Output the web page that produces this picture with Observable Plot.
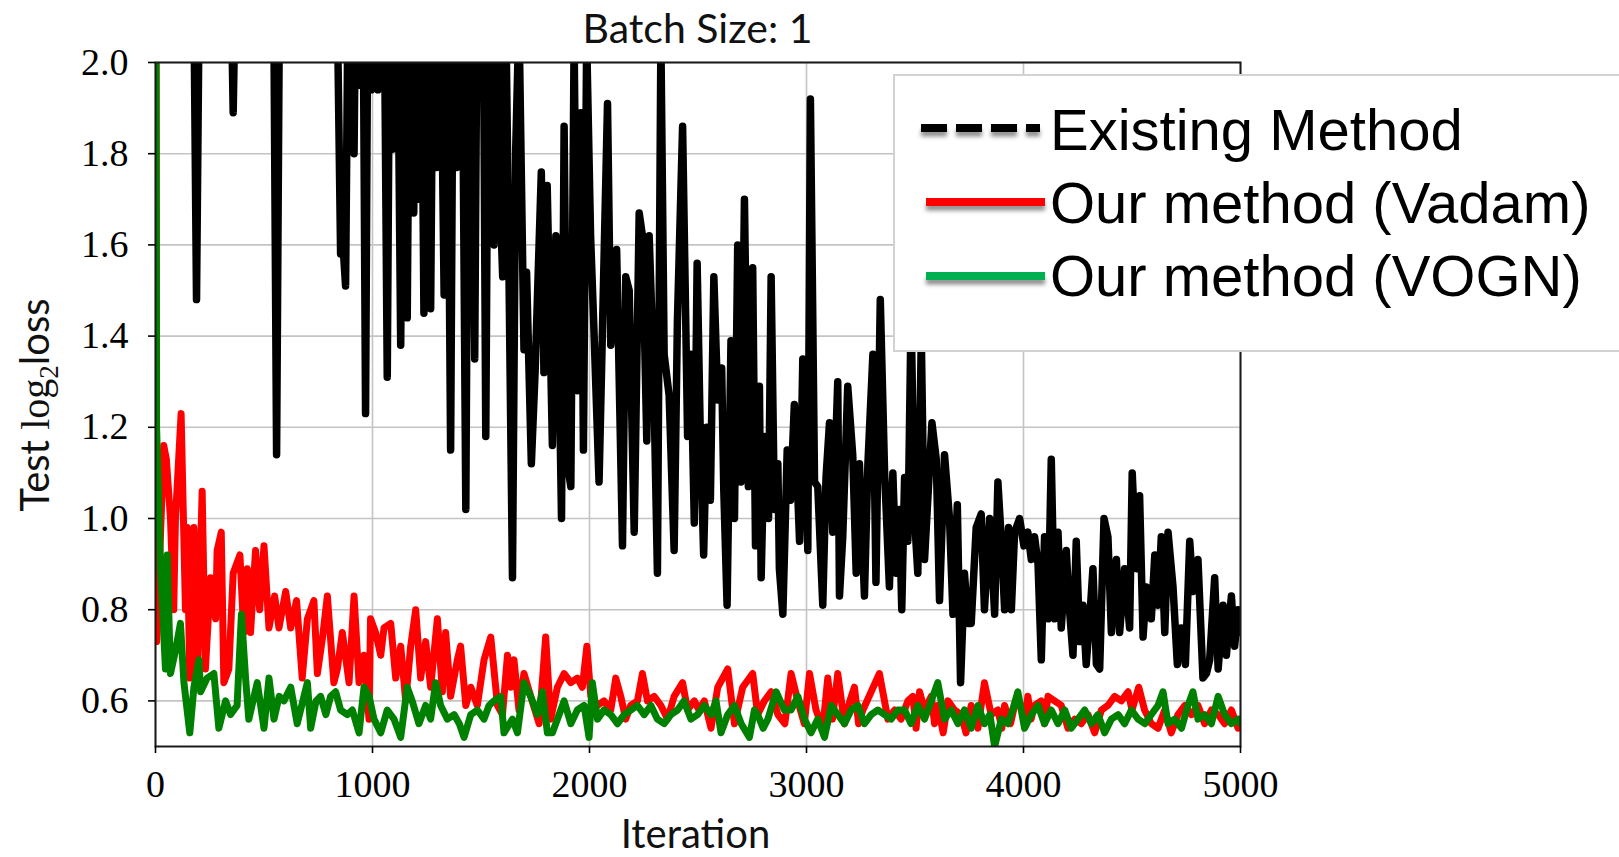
<!DOCTYPE html>
<html>
<head>
<meta charset="utf-8">
<script src="https://cdn.jsdelivr.net/npm/d3@7"></script>
<script src="https://cdn.jsdelivr.net/npm/@observablehq/plot@0.6"></script>
<style>
  html, body { margin: 0; padding: 0; background: #fff; overflow: hidden; }
  #chart { position: relative; width: 1619px; height: 857px; }
</style>
</head>
<body>
<div id="chart"></div>
<script>
// ---- data ----
const xTicks = [0, 1000, 2000, 3000, 4000, 5000];
const yTicks = [0.6, 0.8, 1.0, 1.2, 1.4, 1.6, 1.8, 2.0];
const seriesNames = ["Existing Method", "Our method (Vadam)", "Our method (VOGN)"];

// [iteration, test log2 loss]
const existingMethod = [
[0,2.6],[170,2.5],[189,1.48],[208,2.5],[340,2.4],[358,1.89],[376,2.4],[540,2.5],[558,1.14],[576,2.5],
[830,2.4],[853,1.58],[864,1.6],[876,1.51],[890,2.3],[905,2.2],[915,1.80],[925,2.3],[940,1.95],[955,2.3],
[968,1.23],[980,2.3],[995,1.94],[1010,2.2],[1025,1.94],[1040,2.3],[1055,2.1],[1068,1.31],[1080,2.2],[1092,1.81],
[1105,2.3],[1118,2.0],[1130,1.38],[1145,2.3],[1160,1.44],[1172,2.2],[1190,1.67],[1203,2.2],[1215,1.70],[1226,2.1],
[1237,1.45],[1250,2.2],[1268,1.46],[1280,2.2],[1295,1.77],[1310,2.3],[1330,1.49],[1345,2.1],[1360,1.15],[1374,2.3],
[1388,1.77],[1400,2.2],[1415,2.0],[1430,1.02],[1445,2.3],[1458,2.0],[1471,1.35],[1484,2.3],[1497,2.0],[1510,2.2],
[1522,1.18],[1535,2.2],[1547,1.85],[1560,1.60],[1575,2.2],[1588,1.70],[1600,1.53],[1612,2.2],[1625,1.70],[1645,0.87],
[1660,1.81],[1675,2.1],[1698,1.37],[1710,1.54],[1732,1.12],[1750,1.33],[1778,1.76],[1790,1.32],[1805,1.73],[1829,1.16],
[1845,1.62],[1860,1.33],[1871,1.00],[1883,1.86],[1898,1.12],[1914,1.07],[1929,2.05],[1945,1.28],[1960,1.89],[1972,1.15],
[1987,2.05],[2005,1.62],[2020,1.42],[2044,1.08],[2060,1.42],[2083,1.91],[2098,1.38],[2125,1.59],[2152,0.94],[2167,1.53],
[2183,1.50],[2206,0.97],[2229,1.67],[2244,1.62],[2264,1.17],[2275,1.62],[2295,1.33],[2313,0.88],[2329,2.05],[2344,1.36],
[2367,1.27],[2390,0.93],[2405,1.43],[2429,1.86],[2452,1.18],[2467,1.36],[2483,0.99],[2496,1.56],[2510,1.20],[2526,0.92],
[2540,1.20],[2557,1.04],[2573,1.53],[2591,1.26],[2609,1.33],[2619,1.06],[2634,0.81],[2652,1.39],[2668,1.00],[2683,1.60],
[2698,1.08],[2714,1.70],[2732,1.07],[2752,1.55],[2765,0.94],[2783,1.29],[2791,0.87],[2806,1.18],[2825,1.00],[2837,1.53],
[2852,1.02],[2868,1.12],[2875,0.89],[2891,0.79],[2911,1.15],[2926,1.04],[2944,1.25],[2968,0.95],[2983,1.35],[3006,0.93],
[3018,1.92],[3037,1.08],[3052,1.07],[3075,0.81],[3090,1.09],[3106,1.21],[3121,0.97],[3144,1.30],[3152,0.83],[3167,0.96],
[3190,1.29],[3213,1.14],[3229,0.88],[3244,1.12],[3267,0.83],[3283,1.12],[3306,1.36],[3320,0.86],[3340,1.48],[3360,1.10],
[3382,0.85],[3398,1.10],[3413,0.88],[3428,1.02],[3439,0.80],[3452,1.09],[3467,0.95],[3482,1.45],[3498,1.00],[3513,0.88],
[3529,1.40],[3544,0.91],[3578,1.21],[3598,1.13],[3613,0.82],[3636,1.14],[3659,1.00],[3675,0.79],[3695,1.03],[3710,0.64],
[3728,0.88],[3744,0.77],[3759,0.77],[3782,0.98],[3805,1.01],[3820,0.80],[3844,1.00],[3867,0.79],[3882,1.08],[3898,0.95],
[3913,0.80],[3931,0.98],[3944,0.80],[3959,0.97],[3982,1.00],[4002,0.94],[4020,0.97],[4036,0.91],[4051,0.96],[4067,0.90],
[4082,0.69],[4097,0.96],[4113,0.78],[4128,1.13],[4143,0.78],[4159,0.97],[4174,0.76],[4197,0.93],[4212,0.80],[4228,0.70],
[4243,0.95],[4259,0.73],[4274,0.81],[4289,0.68],[4305,0.78],[4320,0.89],[4336,0.68],[4351,0.67],[4371,1.00],[4389,0.96],
[4405,0.75],[4428,0.91],[4443,0.75],[4466,0.89],[4489,0.76],[4501,1.10],[4520,0.89],[4535,1.05],[4551,0.74],[4566,0.85],
[4589,0.78],[4605,0.92],[4620,0.81],[4635,0.96],[4651,0.75],[4666,0.97],[4689,0.85],[4709,0.68],[4727,0.76],[4746,0.68],
[4766,0.95],[4781,0.84],[4804,0.91],[4827,0.65],[4843,0.66],[4858,0.69],[4881,0.87],[4897,0.67],[4920,0.81],[4935,0.70],
[4958,0.83],[4973,0.72],[4989,0.80],[5000,0.75]
];

const vadam = [
[0,3.0],[5,0.73],[38,1.16],[50,1.13],[69,1.00],[84,0.80],[92,1.00],[118,1.23],[138,0.80],[146,0.98],
[158,0.65],[177,0.98],[192,0.65],[215,1.06],[230,0.67],[254,0.87],[277,0.78],[284,0.93],[303,0.97],[315,0.64],
[338,0.67],[358,0.88],[389,0.92],[407,0.75],[423,0.89],[438,0.75],[461,0.93],[480,0.80],[500,0.94],[523,0.76],
[549,0.83],[569,0.76],[600,0.84],[623,0.76],[650,0.82],[676,0.65],[700,0.78],[730,0.82],[746,0.66],[770,0.74],
[792,0.83],[822,0.64],[838,0.67],[861,0.75],[892,0.64],[915,0.83],[938,0.64],[961,0.70],[984,0.56],[991,0.78],
[1014,0.75],[1038,0.70],[1053,0.76],[1084,0.77],[1107,0.65],[1130,0.72],[1153,0.60],[1176,0.72],[1199,0.80],[1222,0.65],
[1245,0.73],[1268,0.63],[1299,0.78],[1322,0.62],[1337,0.75],[1360,0.61],[1391,0.69],[1406,0.72],[1430,0.59],[1453,0.63],
[1483,0.59],[1514,0.69],[1545,0.74],[1576,0.59],[1599,0.57],[1622,0.70],[1637,0.63],[1652,0.69],[1675,0.58],[1698,0.66],
[1729,0.61],[1768,0.55],[1798,0.74],[1821,0.56],[1852,0.63],[1883,0.66],[1914,0.64],[1944,0.65],[1967,0.63],[1988,0.72],
[2006,0.61],[2037,0.59],[2067,0.60],[2098,0.58],[2121,0.65],[2144,0.61],[2167,0.56],[2190,0.59],[2221,0.60],[2244,0.66],
[2267,0.60],[2298,0.61],[2329,0.59],[2360,0.56],[2390,0.61],[2429,0.64],[2452,0.58],[2483,0.60],[2505,0.58],[2529,0.60],
[2560,0.54],[2591,0.63],[2637,0.67],[2668,0.55],[2706,0.63],[2752,0.66],[2775,0.57],[2806,0.60],[2837,0.62],[2868,0.57],
[2900,0.55],[2929,0.66],[2960,0.60],[2990,0.55],[3014,0.66],[3044,0.58],[3075,0.54],[3098,0.65],[3120,0.56],[3144,0.66],
[3175,0.55],[3200,0.60],[3221,0.63],[3240,0.55],[3260,0.58],[3298,0.62],[3336,0.66],[3375,0.56],[3406,0.58],[3436,0.56],
[3467,0.60],[3490,0.61],[3505,0.54],[3521,0.62],[3544,0.58],[3575,0.61],[3590,0.55],[3605,0.59],[3630,0.53],[3652,0.60],
[3682,0.58],[3713,0.57],[3735,0.53],[3759,0.59],[3790,0.54],[3820,0.64],[3851,0.57],[3882,0.58],[3900,0.54],[3913,0.59],
[3940,0.55],[3959,0.59],[3990,0.59],[4005,0.55],[4020,0.61],[4035,0.56],[4051,0.59],[4082,0.60],[4097,0.55],[4113,0.61],
[4143,0.60],[4174,0.59],[4205,0.54],[4236,0.56],[4266,0.55],[4297,0.57],[4328,0.53],[4359,0.58],[4389,0.59],[4420,0.61],
[4451,0.60],[4482,0.62],[4500,0.58],[4531,0.63],[4558,0.58],[4589,0.55],[4620,0.54],[4651,0.58],[4681,0.53],[4712,0.57],
[4743,0.59],[4774,0.57],[4804,0.59],[4835,0.55],[4866,0.58],[4897,0.57],[4927,0.55],[4958,0.58],[4989,0.54],[5000,0.56]
];

const vogn = [
[0,3.0],[5,1.20],[23,0.89],[46,0.67],[54,0.92],[69,0.66],[92,0.71],[115,0.77],[131,0.64],[158,0.53],
[177,0.63],[200,0.69],[208,0.62],[238,0.65],[269,0.66],[292,0.54],[323,0.60],[346,0.57],[376,0.59],[396,0.79],
[415,0.65],[430,0.56],[469,0.64],[500,0.54],[523,0.65],[546,0.56],[570,0.61],[592,0.60],[623,0.63],[653,0.55],
[700,0.64],[715,0.54],[740,0.60],[761,0.61],[785,0.57],[807,0.61],[830,0.62],[853,0.58],[884,0.57],[907,0.58],
[938,0.53],[961,0.63],[984,0.61],[1007,0.56],[1038,0.53],[1068,0.58],[1099,0.56],[1130,0.52],[1160,0.63],[1183,0.60],
[1214,0.55],[1245,0.59],[1268,0.56],[1291,0.64],[1314,0.59],[1345,0.56],[1376,0.57],[1400,0.55],[1422,0.52],[1453,0.57],
[1483,0.58],[1514,0.56],[1537,0.59],[1560,0.60],[1591,0.61],[1606,0.53],[1645,0.56],[1668,0.53],[1698,0.64],[1729,0.61],
[1760,0.57],[1783,0.62],[1806,0.53],[1829,0.53],[1860,0.57],[1883,0.60],[1914,0.55],[1944,0.58],[1975,0.59],[1998,0.52],
[2013,0.64],[2037,0.56],[2067,0.58],[2098,0.57],[2129,0.55],[2160,0.57],[2190,0.58],[2221,0.59],[2252,0.57],[2283,0.59],
[2313,0.56],[2344,0.55],[2375,0.57],[2406,0.58],[2436,0.60],[2467,0.56],[2498,0.57],[2529,0.59],[2560,0.57],[2583,0.60],
[2606,0.53],[2637,0.57],[2668,0.59],[2699,0.55],[2737,0.52],[2760,0.58],[2775,0.57],[2800,0.54],[2822,0.56],[2860,0.62],
[2898,0.58],[2929,0.58],[2960,0.61],[2991,0.56],[3021,0.53],[3052,0.56],[3083,0.52],[3114,0.59],[3144,0.57],[3175,0.55],
[3206,0.58],[3237,0.59],[3267,0.55],[3298,0.57],[3329,0.58],[3360,0.57],[3390,0.56],[3421,0.58],[3452,0.58],[3482,0.55],
[3513,0.59],[3544,0.56],[3575,0.60],[3605,0.64],[3636,0.56],[3667,0.58],[3698,0.55],[3728,0.58],[3759,0.54],[3790,0.59],
[3820,0.55],[3845,0.57],[3867,0.50],[3898,0.56],[3928,0.55],[3950,0.58],[3974,0.62],[4005,0.54],[4036,0.57],[4067,0.59],
[4097,0.55],[4128,0.58],[4159,0.55],[4190,0.58],[4220,0.54],[4251,0.56],[4282,0.58],[4313,0.55],[4343,0.57],[4374,0.53],
[4405,0.56],[4436,0.57],[4466,0.55],[4497,0.58],[4528,0.56],[4559,0.55],[4589,0.57],[4620,0.59],[4643,0.62],[4666,0.55],
[4697,0.56],[4728,0.54],[4758,0.59],[4781,0.62],[4804,0.56],[4835,0.57],[4866,0.55],[4897,0.61],[4927,0.57],[4958,0.55],
[4989,0.56],[5000,0.55]
];

// ---- build tables ----
const toRows = (pairs) => pairs.map(([iter, loss]) => ({iter, loss}));
const blackRows = toRows(existingMethod);
const redRows = toRows(vadam);
const greenRows = toRows(vogn);

const W = 1619, H = 857;
const mL = 155, mR = 379, mT = 62, mB = 111;

const chart = Plot.plot({
  width: W,
  height: H,
  marginLeft: mL,
  marginRight: mR,
  marginTop: mT,
  marginBottom: mB,
  style: {fontFamily: "'Liberation Serif', serif", fontSize: "38px", color: "#000", background: "#fff", overflow: "visible"},
  x: {domain: [0, 5000]},
  y: {domain: [0.5, 2.0]},
  marks: [
    Plot.gridX(xTicks, {stroke: "#c4c4c4", strokeOpacity: 1, strokeWidth: 1.6}),
    Plot.gridY(yTicks, {stroke: "#c4c4c4", strokeOpacity: 1, strokeWidth: 1.6}),
    Plot.line(blackRows, {x: "iter", y: "loss", stroke: "#000000", strokeWidth: 7.5, clip: true}),
    Plot.line(redRows, {x: "iter", y: "loss", stroke: "#ff0000", strokeWidth: 7, clip: true}),
    Plot.line(greenRows, {x: "iter", y: "loss", stroke: "#008000", strokeWidth: 7, clip: true}),
    Plot.frame({stroke: "#1a1a1a", strokeWidth: 2}),
    Plot.axisX(xTicks, {tickSize: 7, tickPadding: 17, tickFormat: d3.format("d"), label: null, strokeWidth: 1.6}),
    Plot.axisY(yTicks, {tickSize: 7, tickPadding: 20, tickFormat: d3.format(".1f"), label: null, strokeWidth: 1.6})
  ]
});

document.getElementById("chart").appendChild(chart);

// ---- decorations: title, axis labels, legend ----
const svg = d3.select(chart);
const defs = svg.append("defs");
defs.append("filter").attr("id", "blur")
  .attr("filterUnits", "userSpaceOnUse")
  .attr("x", 0).attr("y", 0).attr("width", W).attr("height", H)
  .append("feGaussianBlur").attr("stdDeviation", 2.2);

const plotCX = (mL + (W - mR)) / 2;

svg.append("text")
  .attr("x", plotCX).attr("y", 43)
  .attr("text-anchor", "middle")
  .style("font-family", "Lato, 'Open Sans', sans-serif")
  .style("font-size", "41px")
  .attr("fill", "#111")
  .text("Batch Size: 1");

svg.append("text")
  .attr("x", plotCX - 2).attr("y", 848)
  .attr("text-anchor", "middle")
  .style("font-family", "Lato, 'Open Sans', sans-serif")
  .style("font-size", "40px")
  .attr("fill", "#111")
  .text("Iteration");

const yl = svg.append("text")
  .attr("transform", "translate(49,405) rotate(-90)")
  .attr("text-anchor", "middle")
  .attr("fill", "#111")
  .style("font-size", "40px");
yl.append("tspan").style("font-family", "Lato, sans-serif").text("Test ");
yl.append("tspan").style("font-family", "'Liberation Serif', serif").text("log");
yl.append("tspan").style("font-family", "'Liberation Serif', serif").style("font-size", "27px").attr("dy", 9).text("2");
yl.append("tspan").style("font-family", "Lato, sans-serif").attr("dy", -9).text("loss");

// legend
const lg = svg.append("g");
lg.append("rect")
  .attr("x", 894).attr("y", 75).attr("width", 800).attr("height", 276)
  .attr("fill", "#fff").attr("stroke", "#d2d2d2").attr("stroke-width", 2);

const legendColors = ["#000000", "#ff0000", "#00b050"];
const legendY = [128, 202, 276];
const textY = [150, 223, 296];
seriesNames.forEach((name, i) => {
  const x1 = i === 0 ? 921 : 926, x2 = i === 0 ? 1040 : 1045;
  const sh = lg.append("line")
    .attr("x1", x1).attr("x2", x2)
    .attr("y1", legendY[i] + 5).attr("y2", legendY[i] + 5)
    .attr("stroke", "#000").attr("stroke-opacity", 0.45).attr("stroke-width", 7)
    .attr("filter", "url(#blur)");
  const ln = lg.append("line")
    .attr("x1", x1).attr("x2", x2)
    .attr("y1", legendY[i]).attr("y2", legendY[i])
    .attr("stroke", legendColors[i]).attr("stroke-width", 8);
  if (i === 0) { ln.attr("stroke-dasharray", "26 9"); sh.attr("stroke-dasharray", "26 9"); }
  lg.append("text")
    .attr("x", 1050).attr("y", textY[i])
    .attr("text-anchor", "start")
    .style("font-family", "'Liberation Sans', Arial, sans-serif")
    .style("font-size", "58px")
    .attr("fill", "#000")
    .text(name);
});
</script>
</body>
</html>
